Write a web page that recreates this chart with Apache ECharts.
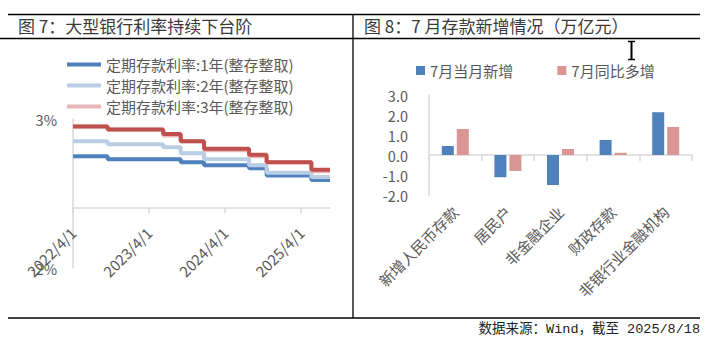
<!DOCTYPE html>
<html>
<head>
<meta charset="utf-8">
<script src="https://cdn.jsdelivr.net/npm/echarts@6/dist/echarts.min.js"></script>
<style>
html,body{margin:0;padding:0;background:#fff;}
#c{width:717px;height:348px;}
</style>
</head>
<body>
<div id="c"></div>
<script>
// ---- Figure 7 data: large-bank time deposit rates (%) ----
const rateDates = ['2022/4/1','2022/9/15','2023/6/8','2023/9/1','2023/12/22','2024/7/25','2024/10/18','2025/5/20','2025/8/18'];
const rate1y = [1.75, 1.65, 1.65, 1.55, 1.45, 1.35, 1.10, 0.95, 0.95];
const rate2y = [2.25, 2.15, 2.05, 1.85, 1.65, 1.45, 1.20, 1.05, 1.05];
const rate3y = [2.75, 2.65, 2.45, 2.25, 1.95, 1.75, 1.55, 1.25, 1.25];
const rate5y = [2.75, 2.65, 2.50, 2.25, 2.00, 1.80, 1.55, 1.30, 1.30];
const rateNames = ['定期存款利率:1年(整存整取)','定期存款利率:2年(整存整取)','定期存款利率:3年(整存整取)','定期存款利率:5年(整存整取)'];
const dateTickLabels = ['2022/4/1','2023/4/1','2024/4/1','2025/4/1'];
const rateAxisLabels = {'3':'3%','-2':'-2%'};

// ---- Figure 8 data: July deposit increase (trillion yuan) ----
const depositCats = ['新增人民币存款','居民户','非金融企业','财政存款','非银行业金融机构'];
const julyNew = [0.45, -1.11, -1.50, 0.75, 2.14];
const julyYoY = [1.30, -0.80, 0.30, 0.11, 1.40];
const barNames = ['7月当月新增','7月同比多增'];

// helpers: date string -> months since 2022/4/1
function toMonths(s){
  const p = s.split('/').map(Number);
  const dim = new Date(p[0], p[1], 0).getDate();
  return (p[0]-2022)*12 + (p[1]-4) + (p[2]-1)/dim;
}
const tickVals = dateTickLabels.map(toMonths);
function pairs(vals){ return rateDates.map((d,i)=>[toMonths(d), vals[i]]); }

const FONT = '"Noto Sans CJK SC", "Microsoft YaHei", sans-serif';
const GRAY = '#595959';
const AXIS = '#D9D9D9';
const xMax = toMonths(rateDates[rateDates.length-1]);
const Y_MIN = -2, Y_MAX = 3, PLOT_H = 149;          // left plot height in px
const TICK_LEN = 5 * (Y_MAX - Y_MIN) / PLOT_H;      // 5px tick expressed in axis units

const chart = echarts.init(document.getElementById('c'), null, {renderer:'svg'});

function lineSeries(name, vals, color){
  return {
    name: name, type:'line', xAxisIndex:0, yAxisIndex:0,
    data: pairs(vals), step:'end', symbol:'none',
    lineStyle:{color:color, width:4, cap:'butt'}, itemStyle:{color:color},
    emphasis:{disabled:true}, z: 3
  };
}
function dateLabel(v){ const i = tickVals.findIndex(t=>Math.abs(t-v)<1e-6); return i>=0 ? dateTickLabels[i] : ''; }

const s1 = lineSeries(rateNames[0], rate1y, '#4F81BD');
// date-axis tick marks under the zero line
s1.markLine = {
  silent:true, animation:false, symbol:['none','none'],
  label:{show:false}, emphasis:{disabled:true},
  lineStyle:{color:AXIS, width:1.5, type:'solid'},
  data: tickVals.map(t => [{coord:[t, 0]}, {coord:[t, -TICK_LEN]}])
};

const option = {
  animation:false,
  textStyle:{fontFamily:FONT},
  legend:[
    {
      data: rateNames.slice(0,3), orient:'vertical', left:62, top:52,
      icon:'rect', itemWidth:34, itemHeight:4, itemGap:6,
      textStyle:{fontSize:15, color:GRAY, fontFamily:FONT}
    },
    {
      data: barNames, orient:'horizontal', left:411, top:58,
      icon:'rect', itemWidth:9, itemHeight:9, itemGap:44,
      textStyle:{fontSize:15, color:GRAY, fontFamily:FONT}
    }
  ],
  grid:[
    {left:73, right:387, top:119, bottom:80, containLabel:false},
    {left:429, right:25, top:95, bottom:153, containLabel:false}
  ],
  xAxis:[
    {
      gridIndex:0, type:'value', min:0, max:xMax, interval:12, position:'bottom', offset:-60,
      axisLine:{show:true, onZero:false, lineStyle:{color:AXIS, width:1.5}},
      axisTick:{show:false},
      axisLabel:{show:true, customValues:tickVals, rotate:45, margin:22, fontSize:15, color:GRAY, fontFamily:FONT,
        formatter:dateLabel},
      splitLine:{show:false}
    },
    {
      gridIndex:1, type:'category', data:depositCats, position:'bottom',
      axisLine:{show:true, onZero:true, lineStyle:{color:AXIS, width:1.5}},
      axisTick:{show:true, interval:0, length:6, lineStyle:{color:AXIS, width:1.5}},
      axisLabel:{show:false}, splitLine:{show:false}
    },
    {
      gridIndex:1, type:'category', data:depositCats, position:'bottom',
      axisLine:{show:false, onZero:false}, axisTick:{show:false},
      axisLabel:{show:true, interval:0, rotate:45, margin:14, fontSize:15, color:GRAY, fontFamily:FONT},
      splitLine:{show:false}
    }
  ],
  yAxis:[
    {
      gridIndex:0, type:'value', min:Y_MIN, max:Y_MAX, interval:1,
      axisLine:{show:true, lineStyle:{color:AXIS, width:1.5}}, axisTick:{show:false}, splitLine:{show:false},
      axisLabel:{margin:16, fontSize:14.5, color:GRAY, fontFamily:FONT,
        formatter:function(v){ return rateAxisLabels[String(v)] || ''; }}
    },
    {
      gridIndex:1, type:'value', min:-2, max:3, interval:1,
      axisLine:{show:true, lineStyle:{color:AXIS, width:1.5}}, axisTick:{show:false}, splitLine:{show:false},
      axisLabel:{margin:21, fontSize:14.5, color:GRAY, fontFamily:FONT,
        formatter:function(v){ return v.toFixed(1); }}
    }
  ],
  series:[
    s1,
    lineSeries(rateNames[1], rate2y, '#B9CDE5'),
    lineSeries(rateNames[2], rate3y, '#E6B9B8'),
    lineSeries(rateNames[3], rate5y, '#C0504D'),
    {
      name:barNames[0], type:'bar', xAxisIndex:1, yAxisIndex:1, data:julyNew,
      barWidth:12, barGap:'25%', itemStyle:{color:'#4F81BD'}, emphasis:{disabled:true}
    },
    {
      name:barNames[1], type:'bar', xAxisIndex:1, yAxisIndex:1, data:julyYoY,
      barWidth:12, barGap:'25%', itemStyle:{color:'#D99694'}, emphasis:{disabled:true}
    }
  ],
  graphic:[
    {type:'line', shape:{x1:8, y1:14.5, x2:700, y2:14.5}, style:{stroke:'#000', lineWidth:1.3}, silent:true},
    {type:'line', shape:{x1:0, y1:38.5, x2:700, y2:38.5}, style:{stroke:'#000', lineWidth:1.3}, silent:true},
    {type:'line', shape:{x1:8, y1:318, x2:700, y2:318}, style:{stroke:'#000', lineWidth:1.3}, silent:true},
    {type:'line', shape:{x1:353, y1:14, x2:353, y2:318}, style:{stroke:'#000', lineWidth:1.3}, silent:true},
    {type:'text', left:18, top:17, style:{text:'图 7：大型银行利率持续下台阶', fontSize:17, fill:'#3a3a3a', fontFamily:FONT}, silent:true},
    {type:'text', left:364, top:17, style:{text:'图 8：7 月存款新增情况（万亿元）', fontSize:17, fill:'#3a3a3a', fontFamily:FONT}, silent:true},
    {type:'text', right:17, top:323, style:{text:'数据来源：Wind，截至 2025/8/18', fontSize:13.5, fill:'#222', fontFamily:'"Liberation Mono", "Noto Sans CJK SC", monospace'}, silent:true},
    // I-beam cursor visible in the reference screenshot
    {type:'line', shape:{x1:631.5, y1:41, x2:631.5, y2:60}, style:{stroke:'#000', lineWidth:2}, silent:true},
    {type:'line', shape:{x1:628, y1:41.5, x2:635, y2:41.5}, style:{stroke:'#000', lineWidth:1.5}, silent:true},
    {type:'line', shape:{x1:628, y1:59.5, x2:635, y2:59.5}, style:{stroke:'#000', lineWidth:1.5}, silent:true}
  ]
};
chart.setOption(option);
</script>
</body>
</html>
